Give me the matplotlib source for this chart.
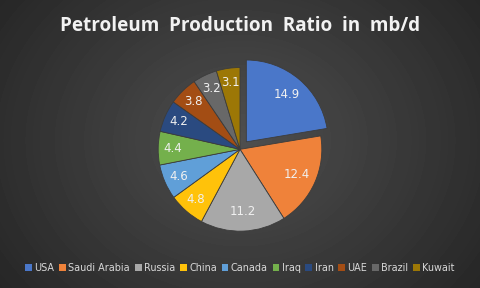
import numpy as np
import matplotlib.pyplot as plt
from matplotlib.patches import Patch

countries = ["USA", "Saudi Arabia", "Russia", "China", "Canada",
             "Iraq", "Iran", "UAE", "Brazil", "Kuwait"]
production = [14.9, 12.4, 11.2, 4.8, 4.6, 4.4, 4.2, 3.8, 3.2, 3.1]
colors = ["#4A77C9", "#EF823A", "#A8A8A8", "#FFC20A", "#609FD8",
          "#74B04C", "#2A4A80", "#A34D14", "#686868", "#9C7706"]

fig = plt.figure(figsize=(4.8, 2.88), dpi=100)

# radial gradient background
bg = fig.add_axes([0, 0, 1, 1])
yy, xx = np.mgrid[0:288, 0:480]
r = np.sqrt(((xx - 240) / 300.0) ** 2 + ((yy - 140) / 250.0) ** 2)
shade = 0.31 - 0.16 * np.clip(r, 0, 1)
bg.imshow(shade, cmap="gray", vmin=0, vmax=1, aspect="auto", extent=[0, 1, 0, 1])
bg.axis("off")

ax = fig.add_axes([0.3125, 0.169, 0.375, 0.625])
explode = [0.12] + [0] * (len(production) - 1)
wedges, texts = ax.pie(production, colors=colors, explode=explode,
                       startangle=90, counterclock=False, radius=1.0,
                       wedgeprops=dict(edgecolor="#3c3c3c", linewidth=0.6))
for w, v in zip(wedges, production):
    ang = np.deg2rad((w.theta1 + w.theta2) / 2)
    cx, cy = w.center
    rr = 0.76 if v > 5 else 0.82
    ax.text(cx + rr * np.cos(ang), cy + rr * np.sin(ang), f"{v}",
            ha="center", va="center", color="#F0F0F0", fontsize=8.5,
            family="DejaVu Sans")
ax.set_aspect("equal")
ax.set_xlim(-1.1, 1.1)
ax.set_ylim(-1.1, 1.1)
ax.axis("off")

fig.text(0.5, 0.91, "Petroleum  Production  Ratio  in  mb/d", ha="center",
         va="center", color="#F2F2F2", fontsize=13.6, fontweight="bold",
         family="Open Sans")

handles = [Patch(facecolor=c, edgecolor="none") for c in colors]
fig.legend(handles, countries, loc="center", bbox_to_anchor=(0.5, 0.07),
           ncol=len(countries), frameon=False, fontsize=6.9,
           labelcolor="#D9D9D9", handlelength=0.7, handleheight=0.7,
           handletextpad=0.25, columnspacing=0.5)

fig.savefig("out.png", dpi=100)
